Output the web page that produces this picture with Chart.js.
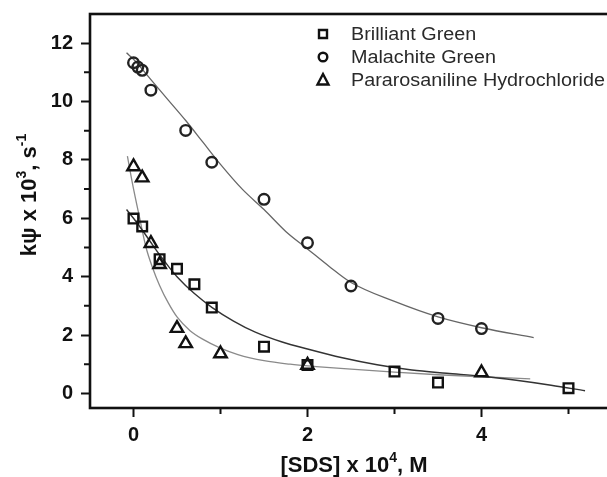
<!DOCTYPE html>
<html>
<head>
<meta charset="utf-8">
<script src="https://cdn.jsdelivr.net/npm/chart.js@4.4.1/dist/chart.umd.min.js"></script>
<style>
  body { margin: 0; overflow: hidden; background: #fff; }
  #grafico { display: block; }
</style>
</head>
<body>
<canvas id="grafico" width="622" height="477"></canvas>
<script>
const serieNombres = ['Brilliant Green', 'Malachite Green', 'Pararosaniline Hydrochloride'];

const bgX = [0, 0.1, 0.3, 0.5, 0.7, 0.9, 1.5, 2.0, 3.0, 3.5, 5.0];
const bgY = [5.99, 5.72, 4.6, 4.27, 3.74, 2.94, 1.6, 0.97, 0.75, 0.37, 0.18];

const mgX = [0, 0.05, 0.1, 0.2, 0.6, 0.9, 1.5, 2.0, 2.5, 3.5, 4.0];
const mgY = [11.33, 11.18, 11.07, 10.39, 9.01, 7.92, 6.65, 5.16, 3.68, 2.57, 2.22];

const prX = [0, 0.1, 0.2, 0.3, 0.5, 0.6, 1.0, 2.0, 4.0];
const prY = [7.77, 7.39, 5.14, 4.42, 2.23, 1.71, 1.36, 0.97, 0.71];

// Curvas de ajuste
const bgFitX = [-0.08, 0, 0.1, 0.2, 0.3, 0.4, 0.5, 0.7, 0.9, 1.15, 1.4, 1.7, 2.0, 2.4, 2.8, 3.2, 3.6, 4.0, 4.4, 4.8, 5.19];
const bgFitY = [6.3, 6.0, 5.6, 5.17, 4.75, 4.36, 4.0, 3.42, 2.95, 2.48, 2.1, 1.77, 1.52, 1.22, 0.98, 0.8, 0.69, 0.59, 0.45, 0.28, 0.09];

const mgFitX = [-0.08, 0, 0.2, 0.4, 0.6, 0.8, 1.0, 1.25, 1.5, 1.75, 2.0, 2.25, 2.5, 3.0, 3.5, 4.0, 4.6];
const mgFitY = [11.67, 11.45, 10.75, 10.05, 9.35, 8.6, 7.85, 7.0, 6.3, 5.55, 4.95, 4.35, 3.8, 3.15, 2.62, 2.25, 1.91];

const prFitX = [-0.07, -0.01, 0.07, 0.145, 0.22, 0.3, 0.4, 0.5, 0.65, 0.8, 1.0, 1.2, 1.5, 1.8, 2.1, 2.5, 3.0, 3.5, 4.0, 4.56];
const prFitY = [8.13, 7.16, 6.02, 4.99, 4.3, 3.7, 3.1, 2.62, 2.15, 1.85, 1.55, 1.33, 1.12, 1.0, 0.92, 0.83, 0.73, 0.64, 0.57, 0.5];

// Marcas de los ejes
const xTicks = [0, 1, 2, 3, 4, 5];
const xTicksMajor = [0, 2, 4];
const yTicks = [0, 1, 2, 3, 4, 5, 6, 7, 8, 9, 10, 11, 12];
const yTicksMajor = [0, 2, 4, 6, 8, 10, 12];

function puntos(xs, ys) {
    return xs.map((x, i) => ({ x: x, y: ys[i] }));
}

const fuente = '"Liberation Sans", Arial, sans-serif';

// Marco completo y marcas menores
const marco = {
    id: 'marco',
    afterDraw(chart) {
        const { ctx, chartArea: a } = chart;
        const sx = chart.scales.x, sy = chart.scales.y;
        ctx.save();
        ctx.strokeStyle = '#111';
        ctx.lineWidth = 2;
        ctx.beginPath();
        xTicks.filter(v => !xTicksMajor.includes(v)).forEach(v => {
            const px = sx.getPixelForValue(v);
            ctx.moveTo(px, a.bottom);
            ctx.lineTo(px, a.bottom + 6);
        });
        yTicks.filter(v => !yTicksMajor.includes(v)).forEach(v => {
            const py = sy.getPixelForValue(v);
            ctx.moveTo(a.left, py);
            ctx.lineTo(a.left - 6, py);
        });
        ctx.stroke();
        ctx.lineWidth = 2.6;
        ctx.strokeRect(a.left, a.top, a.right - a.left, a.bottom - a.top);
        ctx.restore();
    }
};

// Titulos de los ejes con superindices
function textoConSuper(ctx, partes, x, y, tam) {
    let ancho = 0;
    partes.forEach(p => {
        ctx.font = 'bold ' + (p.sup ? Math.round(tam * 0.62) : tam) + 'px ' + fuente;
        ancho += ctx.measureText(p.t).width;
    });
    let cx = x - ancho / 2;
    partes.forEach(p => {
        ctx.font = 'bold ' + (p.sup ? Math.round(tam * 0.62) : tam) + 'px ' + fuente;
        ctx.fillText(p.t, cx, p.sup ? y - tam * 0.45 : y);
        cx += ctx.measureText(p.t).width;
    });
}

const titulos = {
    id: 'titulos',
    afterDraw(chart) {
        const ctx = chart.ctx;
        ctx.save();
        ctx.fillStyle = '#111';
        ctx.textBaseline = 'alphabetic';
        textoConSuper(ctx, [{ t: '[SDS] x 10' }, { t: '4', sup: true }, { t: ', M' }], 354, 472, 22);
        ctx.translate(36, 195);
        ctx.rotate(-Math.PI / 2);
        textoConSuper(ctx, [{ t: 'k\u03c8 x 10' }, { t: '3', sup: true }, { t: ', s' }, { t: '-1', sup: true }], 0, 0, 22);
        ctx.restore();
    }
};

// Leyenda dibujada a mano dentro del area
const leyenda = {
    id: 'leyenda',
    afterDraw(chart) {
        const ctx = chart.ctx;
        const estilos = ['rect', 'circle', 'triangle'];
        ctx.save();
        ctx.font = '17.5px ' + fuente;
        ctx.fillStyle = '#2a2a2a';
        ctx.textBaseline = 'middle';
        estilos.forEach((s, i) => {
            const cx = 323, cy = 34 + i * 23;
            ctx.strokeStyle = '#111';
            ctx.lineWidth = 2.4;
            ctx.beginPath();
            if (s === 'rect') {
                ctx.rect(cx - 4, cy - 4, 8, 8);
            } else if (s === 'circle') {
                ctx.arc(cx, cy, 4.3, 0, Math.PI * 2);
            } else {
                ctx.moveTo(cx, cy - 6);
                ctx.lineTo(cx + 5.5, cy + 4.5);
                ctx.lineTo(cx - 5.5, cy + 4.5);
                ctx.closePath();
            }
            ctx.stroke();
            ctx.save();
            ctx.translate(351, cy + 1);
            ctx.scale(1.13, 1);
            ctx.fillText(serieNombres[i], 0, 0);
            ctx.restore();
        });
        ctx.restore();
    }
};

const ctx = document.getElementById('grafico').getContext('2d');
const chart = new Chart(ctx, {
    type: 'scatter',
    data: {
        datasets: [
            {
                label: serieNombres[0],
                data: puntos(bgX, bgY),
                pointStyle: 'rect',
                pointRadius: 6.8,
                pointBorderWidth: 2.4,
                borderColor: '#111',
                backgroundColor: 'rgba(0,0,0,0)'
            },
            {
                label: serieNombres[1],
                data: puntos(mgX, mgY),
                pointStyle: 'circle',
                pointRadius: 5.3,
                pointBorderWidth: 2.4,
                borderColor: '#222',
                backgroundColor: 'rgba(0,0,0,0)'
            },
            {
                label: serieNombres[2],
                data: puntos(prX, prY),
                pointStyle: 'triangle',
                pointRadius: 7.2,
                pointBorderWidth: 2.4,
                borderColor: '#111',
                backgroundColor: 'rgba(0,0,0,0)'
            },
            {
                label: 'ajuste BG',
                data: puntos(bgFitX, bgFitY),
                showLine: true,
                pointRadius: 0,
                borderColor: '#333',
                borderWidth: 1.4,
                cubicInterpolationMode: 'monotone'
            },
            {
                label: 'ajuste MG',
                data: puntos(mgFitX, mgFitY),
                showLine: true,
                pointRadius: 0,
                borderColor: '#666',
                borderWidth: 1.3,
                cubicInterpolationMode: 'monotone'
            },
            {
                label: 'ajuste PR',
                data: puntos(prFitX, prFitY),
                showLine: true,
                pointRadius: 0,
                borderColor: '#8a8a8a',
                borderWidth: 1.3,
                cubicInterpolationMode: 'monotone'
            }
        ]
    },
    options: {
        responsive: false,
        animation: false,
        layout: { padding: { top: 14, right: 10, left: 0, bottom: 0 } },
        plugins: {
            legend: { display: false },
            tooltip: { enabled: false }
        },
        scales: {
            x: {
                type: 'linear',
                min: -0.5,
                max: 5.5,
                afterFit: s => { s.height = 69; s.paddingLeft = 0; s.paddingRight = 0; },
                afterBuildTicks: s => { s.ticks = xTicks.map(v => ({ value: v })); },
                border: { display: false },
                grid: {
                    drawOnChartArea: false, drawTicks: true, tickLength: 9, tickWidth: 2,
                    tickColor: c => (c.tick && xTicksMajor.includes(c.tick.value)) ? '#111' : 'rgba(0,0,0,0)'
                },
                ticks: {
                    maxRotation: 0,
                    autoSkip: false,
                    padding: 6,
                    color: '#111',
                    font: { family: fuente, size: 20, weight: 'bold' },
                    callback: v => xTicksMajor.includes(v) ? String(v) : ''
                },
                title: { display: false }
            },
            y: {
                type: 'linear',
                min: -0.5,
                max: 13,
                afterFit: s => { s.width = 90; s.paddingTop = 0; s.paddingBottom = 0; },
                afterBuildTicks: s => { s.ticks = yTicks.map(v => ({ value: v })); },
                border: { display: false },
                grid: {
                    drawOnChartArea: false, drawTicks: true, tickLength: 9, tickWidth: 2,
                    tickColor: c => (c.tick && yTicksMajor.includes(c.tick.value)) ? '#111' : 'rgba(0,0,0,0)'
                },
                ticks: {
                    autoSkip: false,
                    padding: 8,
                    color: '#111',
                    font: { family: fuente, size: 20, weight: 'bold' },
                    callback: v => yTicksMajor.includes(v) ? String(v) : ''
                },
                title: { display: false }
            }
        }
    },
    plugins: [marco, titulos, leyenda]
});
</script>
</body>
</html>
